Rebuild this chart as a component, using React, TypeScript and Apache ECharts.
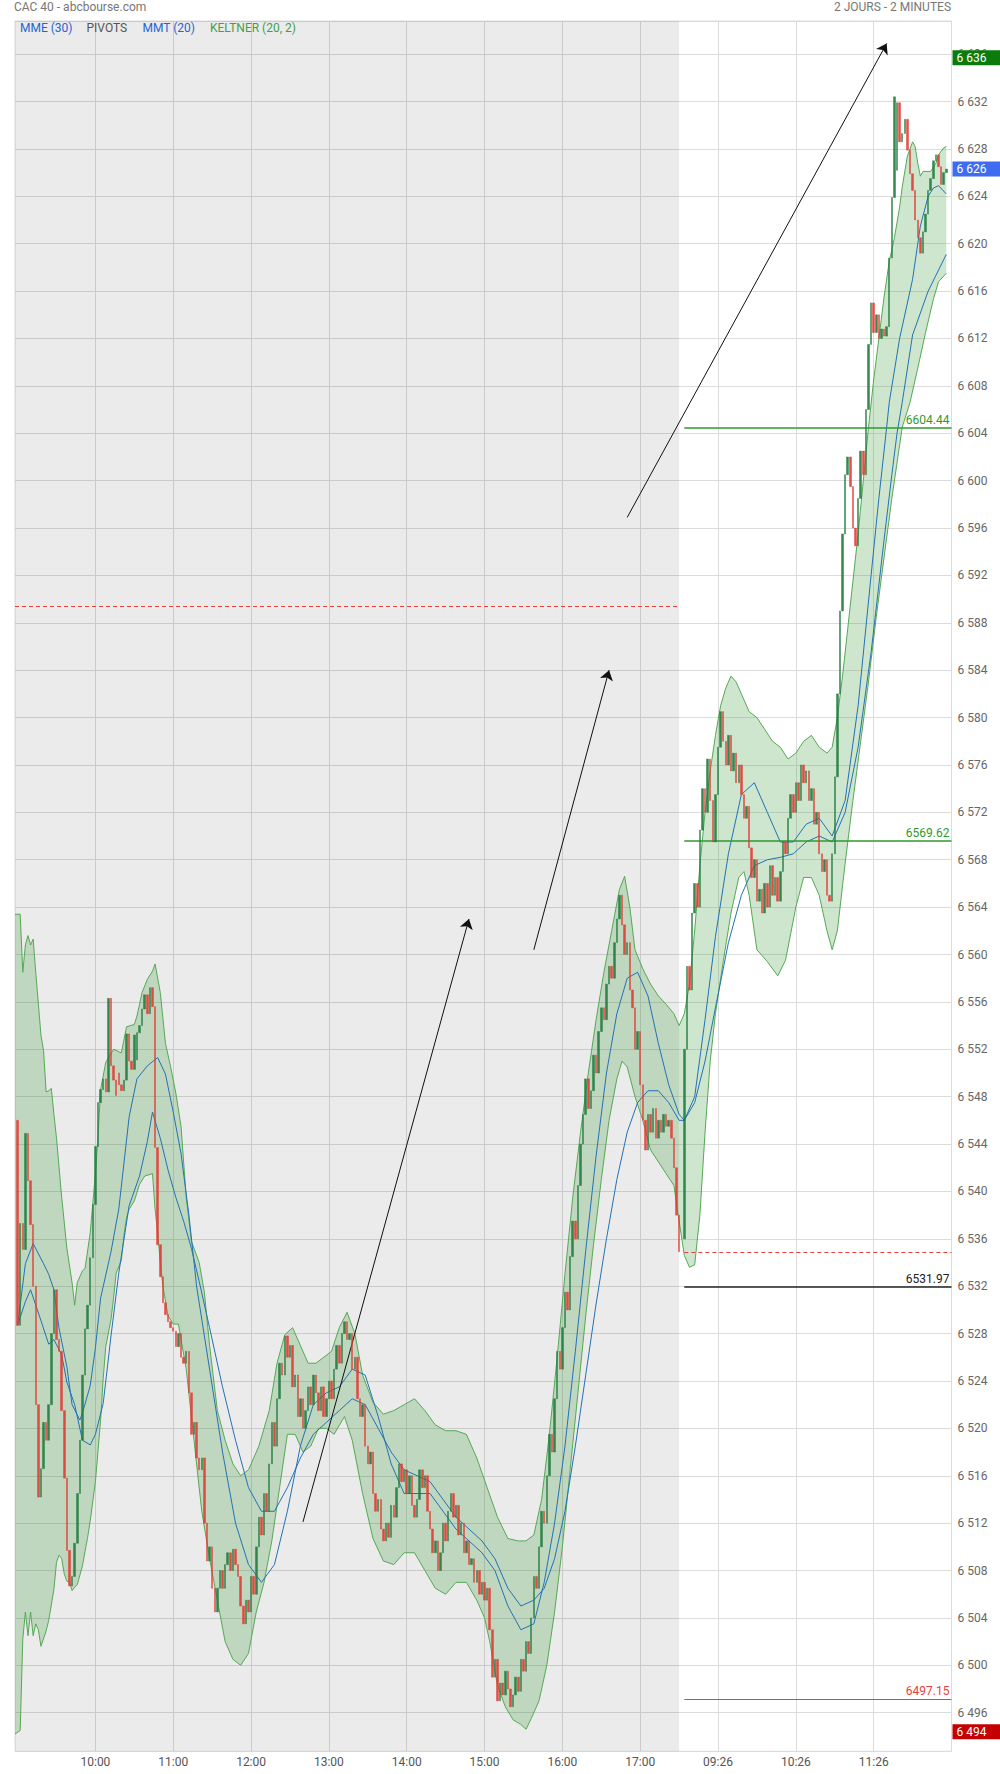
import React, { useEffect, useRef } from 'react';
import * as echarts from 'echarts';

// ---------- DATA ----------
// candles: [open, close, low, high]
// day 1 : category index 1 .. 256  (09:00 - 17:30)
const day1Candles: number[][] = [
  [6546.0, 6528.7, 6527.8, 6548.0], [6528.7, 6537.3, 6528.2, 6539.0], [6537.3, 6535.1, 6533.5, 6538.5], [6535.1, 6544.9, 6534.8, 6551.0], [6544.9, 6540.9, 6539.5, 6549.0],
  [6540.9, 6537.2, 6536.0, 6542.0], [6537.2, 6532.0, 6525.5, 6538.0], [6532.0, 6522.0, 6520.0, 6533.0], [6522.0, 6514.2, 6510.6, 6523.0], [6514.2, 6516.6, 6512.0, 6519.0],
  // 11
  [6516.6, 6520.5, 6515.5, 6522.0], [6520.5, 6519.0, 6517.0, 6523.5], [6519.0, 6522.0, 6518.0, 6524.0], [6522.0, 6528.0, 6521.0, 6529.5], [6528.0, 6531.7, 6526.5, 6534.3],
  [6531.7, 6527.5, 6526.0, 6532.0], [6527.5, 6526.5, 6524.5, 6529.5], [6526.5, 6521.5, 6520.0, 6527.5], [6521.5, 6515.8, 6514.5, 6522.0], [6515.8, 6509.7, 6507.5, 6516.5],
  // 21
  [6509.7, 6506.7, 6503.5, 6514.8], [6506.7, 6507.5, 6505.0, 6511.0], [6507.5, 6510.3, 6506.5, 6511.5], [6510.3, 6514.5, 6509.0, 6515.5], [6514.5, 6519.0, 6513.5, 6520.0],
  [6519.0, 6524.5, 6518.0, 6525.5], [6524.5, 6528.4, 6523.5, 6530.0], [6528.4, 6530.4, 6527.0, 6532.0], [6530.4, 6534.4, 6529.5, 6536.0], [6534.4, 6538.9, 6533.5, 6541.0],
  // 31
  [6538.9, 6543.8, 6537.5, 6551.2], [6543.8, 6547.5, 6542.5, 6549.5], [6547.5, 6548.6, 6543.3, 6551.5], [6548.6, 6549.5, 6546.5, 6552.0], [6549.5, 6548.4, 6547.0, 6551.5],
  [6548.4, 6556.3, 6548.0, 6559.1], [6556.3, 6550.6, 6549.5, 6556.8], [6550.6, 6549.4, 6548.0, 6551.8], [6549.4, 6548.1, 6544.7, 6550.2], [6550.0, 6549.0, 6546.0, 6551.0],
  // 41
  [6549.0, 6548.5, 6547.0, 6550.5], [6548.5, 6549.4, 6546.5, 6551.5], [6549.4, 6553.3, 6548.5, 6557.1], [6553.3, 6551.0, 6549.5, 6554.5], [6551.0, 6550.3, 6548.0, 6553.5],
  [6550.3, 6553.2, 6549.8, 6554.0], [6551.1, 6553.4, 6550.5, 6554.5], [6553.4, 6554.0, 6552.5, 6555.5], [6554.0, 6555.4, 6553.5, 6556.0], [6555.4, 6556.6, 6553.9, 6557.8],
  // 51
  [6556.6, 6555.0, 6554.0, 6557.0], [6555.0, 6557.2, 6554.5, 6559.3], [6557.2, 6555.6, 6549.9, 6558.0], [6555.6, 6543.7, 6543.0, 6556.0], [6543.7, 6535.5, 6534.5, 6545.0],
  [6535.5, 6532.8, 6530.5, 6537.4], [6532.8, 6530.6, 6528.9, 6534.5], [6530.6, 6529.6, 6527.5, 6532.0], [6529.6, 6529.0, 6527.8, 6531.0], [6529.0, 6528.5, 6527.0, 6530.0],
  // 61
  [6528.5, 6528.2, 6527.0, 6529.5], [6528.2, 6526.9, 6524.2, 6528.8], [6526.9, 6528.0, 6525.5, 6529.0], [6528.0, 6526.0, 6525.0, 6528.8], [6526.0, 6525.5, 6523.5, 6527.5],
  [6525.5, 6526.5, 6524.0, 6527.5], [6526.5, 6523.0, 6522.0, 6527.0], [6523.0, 6519.5, 6518.0, 6524.5], [6519.5, 6520.5, 6518.5, 6522.5], [6520.5, 6517.5, 6516.0, 6521.5],
  // 71
  [6517.5, 6516.5, 6514.5, 6519.5], [6516.5, 6517.5, 6515.5, 6519.0], [6517.5, 6512.0, 6511.0, 6518.0], [6512.0, 6508.8, 6507.0, 6513.0], [6508.8, 6510.0, 6507.5, 6511.5],
  [6510.0, 6506.5, 6505.5, 6511.0], [6506.5, 6504.5, 6500.2, 6507.5], [6504.5, 6506.5, 6503.5, 6507.5], [6506.5, 6508.0, 6505.5, 6509.5], [6508.0, 6506.5, 6505.0, 6509.0],
  // 81
  [6506.5, 6508.5, 6505.5, 6510.0], [6508.5, 6509.5, 6507.0, 6511.0], [6509.5, 6508.0, 6507.0, 6510.5], [6508.0, 6509.8, 6507.5, 6511.0], [6509.8, 6508.5, 6507.0, 6510.5],
  [6508.5, 6507.5, 6505.5, 6509.5], [6507.5, 6505.0, 6504.0, 6508.5], [6505.0, 6503.5, 6499.7, 6506.0], [6503.5, 6505.5, 6502.5, 6506.5], [6505.5, 6504.5, 6502.0, 6507.0],
  // 91
  [6504.5, 6507.5, 6503.5, 6508.5], [6507.5, 6506.0, 6505.0, 6509.0], [6506.0, 6510.0, 6505.5, 6511.0], [6510.0, 6512.5, 6509.0, 6514.0], [6512.5, 6511.0, 6509.5, 6513.5],
  [6511.0, 6514.5, 6510.0, 6515.5], [6514.5, 6513.0, 6511.5, 6516.0], [6513.0, 6517.0, 6512.5, 6518.0], [6517.0, 6520.5, 6516.0, 6521.5], [6520.5, 6518.5, 6517.0, 6522.0],
  // 101
  [6518.5, 6522.5, 6518.0, 6524.0], [6522.5, 6525.5, 6521.5, 6526.5], [6525.5, 6524.5, 6523.0, 6527.0], [6524.5, 6527.8, 6524.0, 6528.6], [6527.8, 6526.0, 6524.5, 6528.5],
  [6526.0, 6527.0, 6525.0, 6528.0], [6527.0, 6523.5, 6522.5, 6527.5], [6523.5, 6524.5, 6521.5, 6525.5], [6524.5, 6521.0, 6520.0, 6525.0], [6521.0, 6522.5, 6519.5, 6523.5],
  // 111
  [6522.5, 6520.0, 6518.5, 6523.0], [6520.0, 6521.5, 6519.0, 6522.5], [6521.5, 6523.5, 6520.5, 6524.5], [6523.5, 6522.0, 6521.0, 6525.0], [6522.0, 6524.5, 6521.5, 6525.5],
  [6524.5, 6523.0, 6522.0, 6525.5], [6523.0, 6521.5, 6520.0, 6524.0], [6521.5, 6523.5, 6520.5, 6524.5], [6523.5, 6521.0, 6520.0, 6524.0], [6521.0, 6522.5, 6519.5, 6523.5],
  // 121
  [6522.5, 6524.0, 6521.5, 6525.0], [6524.0, 6522.5, 6521.0, 6525.0], [6522.5, 6525.0, 6522.0, 6526.0], [6525.0, 6527.0, 6524.0, 6528.0], [6527.0, 6525.5, 6524.5, 6527.5],
  [6525.5, 6528.0, 6525.0, 6529.0], [6528.0, 6529.0, 6527.0, 6529.8], [6529.0, 6527.5, 6526.5, 6529.5], [6527.5, 6528.0, 6526.0, 6529.0], [6528.0, 6525.0, 6524.0, 6528.5],
  // 131
  [6525.0, 6526.0, 6524.0, 6527.0], [6526.0, 6522.5, 6521.5, 6526.5], [6522.5, 6521.0, 6519.5, 6523.5], [6521.0, 6522.0, 6520.0, 6523.0], [6522.0, 6518.5, 6517.5, 6522.5],
  [6518.5, 6517.0, 6515.5, 6519.5], [6517.0, 6518.0, 6516.0, 6519.0], [6518.0, 6514.5, 6513.5, 6518.5], [6514.5, 6513.0, 6511.5, 6515.5], [6513.0, 6514.0, 6512.0, 6515.0],
  // 141
  [6514.0, 6511.5, 6510.0, 6514.5], [6511.5, 6510.5, 6509.0, 6512.5], [6510.5, 6512.0, 6509.5, 6513.0], [6512.0, 6510.8, 6509.0, 6513.0], [6510.8, 6513.5, 6510.0, 6514.5],
  [6513.5, 6512.5, 6511.0, 6514.5], [6512.5, 6515.0, 6512.0, 6516.0], [6515.0, 6517.0, 6514.0, 6518.0], [6517.0, 6515.5, 6514.5, 6518.0], [6515.5, 6516.5, 6514.0, 6517.5],
  // 151
  [6516.5, 6514.5, 6513.5, 6517.5], [6514.5, 6516.0, 6513.0, 6517.0], [6516.0, 6513.5, 6512.5, 6516.5], [6513.5, 6512.5, 6511.0, 6514.5], [6512.5, 6514.0, 6511.5, 6515.0],
  [6514.0, 6516.5, 6513.0, 6517.5], [6516.5, 6515.0, 6514.0, 6518.0], [6515.0, 6516.0, 6514.0, 6517.0], [6516.0, 6513.0, 6512.0, 6516.5], [6513.0, 6511.5, 6510.5, 6514.0],
  // 161
  [6511.5, 6509.5, 6508.5, 6512.5], [6509.5, 6510.5, 6508.0, 6511.5], [6510.5, 6508.0, 6506.5, 6511.0], [6508.0, 6509.5, 6507.5, 6510.5], [6509.5, 6512.0, 6509.0, 6513.0],
  [6512.0, 6510.5, 6509.5, 6513.0], [6510.5, 6513.0, 6510.0, 6514.0], [6513.0, 6514.5, 6512.0, 6515.5], [6514.5, 6512.5, 6511.5, 6515.0], [6512.5, 6513.5, 6511.0, 6514.5],
  // 171
  [6513.5, 6511.0, 6510.0, 6514.0], [6511.0, 6512.0, 6509.5, 6513.0], [6512.0, 6509.5, 6508.5, 6512.5], [6509.5, 6510.5, 6508.0, 6511.5], [6510.5, 6508.5, 6507.0, 6511.0],
  [6508.5, 6509.0, 6507.0, 6510.5], [6509.0, 6507.0, 6505.5, 6509.5], [6507.0, 6508.0, 6506.0, 6509.0], [6508.0, 6506.0, 6505.0, 6508.5], [6506.0, 6507.0, 6505.0, 6508.0],
  // 181
  [6507.0, 6505.5, 6504.0, 6508.5], [6505.5, 6506.5, 6504.5, 6507.5], [6506.5, 6503.0, 6502.0, 6507.0], [6503.0, 6499.0, 6497.5, 6503.5], [6499.0, 6500.5, 6497.5, 6501.5],
  [6500.5, 6497.0, 6495.5, 6501.0], [6497.0, 6498.5, 6496.0, 6500.0], [6498.5, 6497.5, 6496.0, 6499.5], [6497.5, 6499.5, 6496.5, 6500.5], [6499.5, 6498.0, 6496.5, 6500.5],
  // 191
  [6498.0, 6496.5, 6495.0, 6499.0], [6496.5, 6497.5, 6494.4, 6498.5], [6497.5, 6499.0, 6496.5, 6500.0], [6499.0, 6497.8, 6496.5, 6500.0], [6497.8, 6500.5, 6497.0, 6501.5],
  [6500.5, 6499.5, 6498.0, 6501.5], [6499.5, 6502.0, 6499.0, 6503.0], [6502.0, 6501.0, 6499.5, 6503.0], [6501.0, 6504.0, 6500.5, 6505.0], [6504.0, 6507.5, 6503.5, 6508.5],
  // 201
  [6507.5, 6506.5, 6505.0, 6509.0], [6506.5, 6510.0, 6506.0, 6511.0], [6510.0, 6513.0, 6509.0, 6514.0], [6513.0, 6512.0, 6510.5, 6514.5], [6512.0, 6516.0, 6511.5, 6517.0],
  [6516.0, 6519.5, 6515.0, 6520.5], [6519.5, 6518.0, 6516.5, 6521.0], [6518.0, 6522.5, 6517.5, 6523.5], [6522.5, 6526.5, 6521.5, 6527.5], [6526.5, 6525.0, 6523.5, 6528.0],
  // 211
  [6525.0, 6528.5, 6524.5, 6529.5], [6528.5, 6531.5, 6527.5, 6532.5], [6531.5, 6530.0, 6528.5, 6533.0], [6530.0, 6534.5, 6529.5, 6535.5], [6534.5, 6537.5, 6533.5, 6538.5],
  [6537.5, 6536.0, 6534.5, 6539.0], [6536.0, 6540.5, 6535.5, 6541.5], [6540.5, 6544.0, 6539.5, 6545.0], [6544.0, 6546.5, 6543.0, 6548.0], [6546.5, 6549.5, 6545.5, 6551.0],
  // 221
  [6549.5, 6547.0, 6545.5, 6550.5], [6547.0, 6548.5, 6546.0, 6549.5], [6548.5, 6551.5, 6547.5, 6552.5], [6551.5, 6550.0, 6548.5, 6552.5], [6550.0, 6553.5, 6549.5, 6554.5],
  [6553.5, 6555.5, 6552.5, 6556.5], [6555.5, 6554.5, 6553.0, 6557.0], [6554.5, 6557.5, 6554.0, 6558.5], [6557.5, 6559.0, 6556.5, 6560.0], [6559.0, 6558.0, 6556.5, 6560.0],
  // 231
  [6558.0, 6561.0, 6557.5, 6562.0], [6561.0, 6563.0, 6560.0, 6564.0], [6563.0, 6565.0, 6561.5, 6566.6], [6565.0, 6562.5, 6561.0, 6565.5], [6562.5, 6560.0, 6558.5, 6563.0],
  [6560.0, 6561.0, 6558.0, 6562.0], [6561.0, 6557.0, 6556.0, 6561.5], [6557.0, 6555.5, 6553.5, 6558.5], [6555.5, 6552.0, 6550.5, 6556.0], [6552.0, 6553.5, 6550.0, 6555.0],
  // 241
  [6553.5, 6549.0, 6548.0, 6554.0], [6549.0, 6546.0, 6544.5, 6549.5], [6546.0, 6543.5, 6541.5, 6547.0], [6543.5, 6546.5, 6542.5, 6547.5], [6546.5, 6545.0, 6543.5, 6548.0],
  [6545.0, 6547.0, 6544.0, 6548.0], [6547.0, 6544.5, 6543.0, 6547.5], [6544.5, 6546.0, 6543.5, 6547.0], [6546.0, 6545.0, 6543.5, 6547.0], [6545.0, 6546.5, 6544.0, 6547.5],
  // 251
  [6546.5, 6545.5, 6544.5, 6547.5], [6545.5, 6546.0, 6544.0, 6547.0], [6546.0, 6544.5, 6543.0, 6546.5], [6544.5, 6542.0, 6541.0, 6545.0], [6542.0, 6538.0, 6537.0, 6542.5],
  [6538.0, 6534.9, 6534.5, 6539.0],
];

// day 2 : category index 258 .. 359  (09:00 - 12:22)
const day2Candles: number[][] = [
  // 258
  [6536.0, 6552.0, 6535.5, 6553.0], [6552.0, 6559.0, 6550.5, 6560.5], [6559.0, 6557.0, 6555.0, 6561.0],
  [6557.0, 6563.5, 6556.0, 6565.0], [6563.5, 6566.0, 6561.5, 6567.5], [6566.0, 6564.0, 6562.5, 6567.5], [6564.0, 6570.5, 6563.5, 6572.0], [6570.5, 6574.0, 6569.0, 6577.0],
  [6574.0, 6572.0, 6570.0, 6577.5], [6572.0, 6576.5, 6571.0, 6577.5], [6576.5, 6573.0, 6571.5, 6577.0], [6573.0, 6569.5, 6568.0, 6574.0], [6569.5, 6573.5, 6568.5, 6574.5],
  // 271
  [6573.5, 6577.5, 6572.5, 6578.5], [6577.5, 6580.5, 6576.0, 6582.0], [6580.5, 6578.0, 6576.5, 6584.7], [6578.0, 6576.0, 6574.5, 6579.0], [6576.0, 6578.5, 6575.0, 6579.5],
  [6578.5, 6575.5, 6574.0, 6579.0], [6575.5, 6577.0, 6574.5, 6578.0], [6577.0, 6574.5, 6573.0, 6578.0], [6574.5, 6576.0, 6573.5, 6577.5], [6576.0, 6573.5, 6572.0, 6576.5],
  // 281
  [6573.5, 6571.5, 6570.5, 6574.5], [6571.5, 6572.5, 6570.0, 6573.5], [6572.5, 6569.0, 6568.0, 6573.0], [6569.0, 6566.5, 6565.0, 6570.0], [6566.5, 6568.0, 6564.5, 6569.0],
  [6568.0, 6564.5, 6563.0, 6568.5], [6564.5, 6565.5, 6561.3, 6566.5], [6565.5, 6563.5, 6562.0, 6566.5], [6563.5, 6566.0, 6562.5, 6567.0], [6566.0, 6564.0, 6562.5, 6567.0],
  // 291
  [6564.0, 6567.5, 6563.0, 6568.5], [6567.5, 6565.0, 6564.0, 6568.0], [6565.0, 6566.5, 6563.5, 6567.5], [6566.5, 6564.5, 6563.5, 6567.0], [6564.5, 6567.0, 6564.0, 6568.0],
  [6567.0, 6569.5, 6566.0, 6570.5], [6569.5, 6568.5, 6567.0, 6570.5], [6568.5, 6571.5, 6568.0, 6572.5], [6571.5, 6573.5, 6570.5, 6574.5], [6573.5, 6572.0, 6570.5, 6574.5],
  // 301
  [6572.0, 6574.5, 6571.0, 6575.5], [6574.5, 6573.0, 6572.0, 6575.5], [6573.0, 6576.0, 6572.5, 6578.5], [6576.0, 6574.5, 6573.0, 6577.0], [6574.5, 6575.5, 6573.5, 6576.5],
  [6575.5, 6573.0, 6572.0, 6576.0], [6573.0, 6574.0, 6572.0, 6575.0], [6574.0, 6571.0, 6570.0, 6574.5], [6571.0, 6572.0, 6570.0, 6573.0], [6572.0, 6568.5, 6567.5, 6572.5],
  // 311
  [6568.5, 6567.0, 6565.5, 6569.5], [6567.0, 6568.0, 6566.0, 6569.0], [6568.0, 6565.0, 6563.5, 6568.5], [6565.0, 6564.5, 6563.2, 6566.5], [6564.5, 6568.5, 6564.0, 6569.5],
  [6568.5, 6575.0, 6568.0, 6576.0], [6575.0, 6582.0, 6574.0, 6583.0], [6582.0, 6589.0, 6581.0, 6590.0], [6589.0, 6595.5, 6588.0, 6597.0], [6595.5, 6600.5, 6594.5, 6605.0],
  // 321
  [6600.5, 6602.0, 6599.0, 6605.0], [6602.0, 6599.5, 6598.0, 6603.0], [6599.5, 6596.0, 6594.5, 6600.5], [6596.0, 6594.5, 6592.8, 6597.0], [6594.5, 6598.5, 6594.0, 6599.5],
  [6598.5, 6602.5, 6597.5, 6603.5], [6602.5, 6600.5, 6599.0, 6603.5], [6600.5, 6606.0, 6600.0, 6607.0], [6606.0, 6611.5, 6605.5, 6619.0], [6611.5, 6615.0, 6610.5, 6616.5],
  // 331
  [6615.0, 6612.5, 6611.0, 6616.0], [6612.5, 6614.0, 6611.0, 6615.5], [6614.0, 6612.0, 6610.5, 6617.0], [6612.0, 6612.8, 6610.0, 6614.0], [6612.8, 6612.2, 6610.5, 6614.5],
  [6612.2, 6613.0, 6611.0, 6614.0], [6613.0, 6618.8, 6612.5, 6620.0], [6618.8, 6623.9, 6615.1, 6624.5], [6623.9, 6632.4, 6623.0, 6635.7], [6626.2, 6631.9, 6625.5, 6633.2],
  // 341
  [6631.9, 6628.6, 6627.5, 6632.5], [6628.6, 6629.3, 6627.5, 6630.5], [6629.3, 6630.5, 6627.5, 6632.6], [6630.5, 6627.9, 6627.0, 6631.0], [6627.9, 6625.9, 6624.5, 6628.5],
  [6625.9, 6624.5, 6622.5, 6627.0], [6624.5, 6622.0, 6620.5, 6625.0], [6622.0, 6620.5, 6619.5, 6623.0], [6620.5, 6619.2, 6618.0, 6622.0], [6619.2, 6621.0, 6618.5, 6622.0],
  // 351
  [6621.0, 6622.5, 6620.0, 6623.5], [6622.5, 6624.5, 6621.5, 6625.0], [6624.5, 6625.5, 6623.5, 6626.5], [6625.5, 6627.0, 6624.5, 6628.5], [6627.0, 6627.5, 6625.5, 6629.2],
  [6627.5, 6626.5, 6625.5, 6628.0], [6626.5, 6625.0, 6623.5, 6627.0], [6625.0, 6626.0, 6624.5, 6627.5], [6626.0, 6626.3, 6625.0, 6627.5],
];

// Keltner (20, 2) band edges, read as [category index, value]
const upperBand: number[][] = [
  [0, 6563.4], [2, 6563.4], [3, 6558.5], [4, 6560.8], [5, 6561.6], [6, 6560.8], [7, 6561.3], [8, 6558.5], [10, 6553.2], [11, 6551.9], [12, 6548.4], [13, 6548.5], [14, 6548.7],
  [15, 6546.5], [16, 6544.5], [18, 6539.5], [20, 6535.2], [22, 6532.3], [23, 6530.4], [24, 6532.3], [26, 6533.3], [27, 6533.5], [29, 6536.5], [31, 6541.5], [32, 6544.6],
  [33, 6548.6], [35, 6550.9], [38, 6552], [40, 6551.8], [41, 6551.7], [43, 6553.9], [46, 6554.1], [47, 6554.8], [49, 6556.8], [51, 6557.9], [53, 6558.6], [54, 6559.2],
  [56, 6556.8], [58, 6552.5], [60, 6550.5], [62, 6548.3], [64, 6545.5], [66, 6539.5], [68, 6535.8], [71, 6534], [73, 6531.5], [75, 6527], [78, 6521.5], [81, 6519],
  [84, 6517], [87, 6516], [90, 6516.5], [94, 6518.5], [98, 6521.5], [101, 6525.5], [104, 6527.9], [107, 6528.5], [110, 6527], [113, 6525.5], [116, 6525.5], [119, 6526],
  [122, 6526.5], [125, 6528.5], [128, 6529.8], [131, 6528], [134, 6524.5], [138, 6522.2], [142, 6521.2], [146, 6521.5], [150, 6522], [154, 6522.5], [158, 6521.5],
  [162, 6520.3], [166, 6519.8], [170, 6519.8], [174, 6519.5], [178, 6517.5], [182, 6515], [186, 6512.5], [190, 6510.7], [194, 6510.5], [197, 6510.5], [200, 6511],
  [203, 6514], [206, 6519.5], [209, 6526], [212, 6533], [215, 6539.5], [218, 6545], [221, 6550], [224, 6554.5], [227, 6558.5], [230, 6562], [233, 6565.5], [235, 6566.6],
  [237, 6564], [239, 6560.4], [242, 6558.8], [245, 6557.5], [248, 6556.5], [251, 6555.8], [254, 6555], [256, 6554], [258, 6555], [260, 6557.5], [262, 6562], [264, 6567.5],
  [266, 6572], [268, 6575.5], [270, 6578.5], [272, 6581], [274, 6582.5], [276, 6583.5], [278, 6583], [280, 6582], [283, 6580.5], [286, 6580], [289, 6579], [292, 6578],
  [295, 6577.5], [298, 6576.5], [301, 6577], [304, 6578], [307, 6578.5], [310, 6577.5], [313, 6577], [315, 6577.5], [317, 6580], [319, 6583.5], [321, 6587.5],
  [323, 6591.5], [325, 6595.5], [327, 6600], [329, 6604.5], [331, 6608.5], [333, 6612], [335, 6615.5], [337, 6618.5], [339, 6620.5], [341, 6623.1], [342, 6624.8],
  [344, 6627.4], [346, 6628.6], [347, 6628.2], [348, 6626.8], [349, 6625.7], [350, 6626.1], [353, 6626.1], [355, 6626.8], [356, 6627.5], [358, 6628.1], [359, 6628.2],
];

const lowerBand: number[][] = [
  [0, 6494.2], [2, 6494.5], [3, 6502.2], [4, 6504.5], [5, 6502.5], [6, 6504.5], [7, 6502.5], [8, 6503.5], [9, 6503], [10, 6501.6], [12, 6502.9], [13, 6503.8], [15, 6506.4],
  [16, 6508.7], [17, 6509.3], [18, 6509], [19, 6507.7], [20, 6507.1], [21, 6507], [22, 6506.3], [23, 6506.6], [24, 6506.8], [26, 6508.4], [27, 6509.6], [28, 6510.8],
  [29, 6512.2], [31, 6515.5], [33, 6520.7], [34, 6524.2], [35, 6526.9], [37, 6529.2], [38, 6531], [39, 6533.1], [41, 6534.2], [42, 6536.3], [43, 6537.8], [44, 6538.5],
  [46, 6539.2], [47, 6539.9], [48, 6540.6], [50, 6541.3], [53, 6541.5], [54, 6538.5], [55, 6536.5], [56, 6534], [57, 6532], [59, 6529.5], [61, 6528.8], [63, 6528.8],
  [66, 6525], [69, 6519], [72, 6513], [75, 6509], [78, 6505.5], [81, 6502], [84, 6500.5], [87, 6500], [90, 6501], [93, 6504.5], [96, 6507], [99, 6510.5], [102, 6515],
  [105, 6519.5], [108, 6519.5], [111, 6518], [114, 6518.5], [117, 6520], [120, 6520], [123, 6519.5], [127, 6521], [130, 6519], [134, 6514.5], [138, 6510.7],
  [142, 6508.8], [146, 6508.5], [150, 6509.5], [154, 6509.5], [158, 6508], [162, 6506.5], [166, 6506], [170, 6507], [174, 6507], [178, 6505.5], [181, 6504], [183, 6502],
  [186, 6498.3], [189, 6496.5], [192, 6495.4], [195, 6495], [197, 6494.6], [199, 6495.5], [202, 6497], [205, 6500], [208, 6504.5], [211, 6510], [214, 6516.5],
  [217, 6523], [220, 6529.5], [223, 6535.5], [226, 6541], [229, 6546], [232, 6549.5], [234, 6551], [236, 6550.5], [239, 6548], [242, 6546], [245, 6543.5], [248, 6542.5],
  [251, 6541.5], [254, 6540.5], [256, 6537.5], [258, 6534.6], [260, 6533.6], [262, 6533.8], [264, 6538], [266, 6545], [268, 6551], [270, 6555], [273, 6559.4],
  [276, 6563.5], [279, 6566.5], [281, 6567], [283, 6565], [286, 6560.4], [290, 6559.4], [294, 6558.2], [297, 6559.5], [301, 6564], [304, 6566.5], [307, 6566.5],
  [310, 6565], [313, 6562], [315, 6560.4], [317, 6562], [320, 6567.7], [323, 6573], [326, 6578], [329, 6583], [332, 6588.5], [335, 6593.5], [338, 6598.5], [340, 6601.5],
  [342, 6604.5], [345, 6606.6], [348, 6609.5], [351, 6612.5], [354, 6615.3], [356, 6616.8], [359, 6617.5],
];

// MMT (20) and MME (30), read as [category index, value]
const mmt: number[][] = [
  [1, 6528.7], [4, 6533.9], [7, 6535.6], [11, 6533.9], [13, 6533], [15, 6531.7], [17, 6528.4], [20, 6525.2], [22, 6522], [25, 6520.7], [26, 6521.3], [29, 6523.6],
  [31, 6526.8], [33, 6531], [37, 6534.9], [40, 6538.5], [44, 6546.3], [47, 6549.5], [51, 6550.6], [55, 6551.3], [58, 6549.9], [61, 6546.7], [64, 6543.2], [67, 6538.1],
  [70, 6532], [75, 6525], [80, 6518], [85, 6512], [90, 6508.5], [95, 6507], [100, 6508.5], [105, 6513], [110, 6518.5], [115, 6522], [120, 6523], [125, 6523.5],
  [130, 6525], [135, 6524.5], [140, 6521], [145, 6517], [150, 6514.5], [155, 6514.5], [160, 6514.5], [165, 6513], [170, 6511.5], [175, 6510.5], [180, 6509.5],
  [185, 6508], [190, 6505], [195, 6503], [200, 6503.5], [204, 6507], [208, 6512], [212, 6518.5], [216, 6526.5], [220, 6535], [224, 6543], [228, 6550], [232, 6555],
  [236, 6558], [240, 6558.5], [244, 6556.5], [248, 6552.5], [252, 6549], [256, 6546.5], [258, 6546], [262, 6548], [266, 6554.5], [270, 6561.5], [275, 6568.5],
  [280, 6573.5], [285, 6574.5], [290, 6572], [295, 6569.5], [300, 6569.5], [305, 6571], [310, 6571.5], [315, 6570], [320, 6573], [325, 6581], [330, 6592],
  [333, 6598.5], [336, 6604.5], [337, 6606.6], [341, 6612], [346, 6617], [349, 6621.5], [352, 6624], [354, 6624.7], [356, 6624.9], [359, 6624.2],
];

const mme: number[][] = [
  [1, 6528.7], [4, 6530.7], [6, 6531.7], [10, 6529.1], [13, 6527.1], [15, 6527.5], [18, 6526.2], [20, 6523.9], [23, 6522], [26, 6519], [29, 6518.6], [31, 6519.5],
  [34, 6522.1], [37, 6527.8], [40, 6533.1], [44, 6538.8], [48, 6541.3], [51, 6544.2], [53, 6546.7], [56, 6544.5], [59, 6541.8], [62, 6539.5], [65, 6537.5],
  [68, 6535.2], [71, 6532.4], [75, 6528.5], [80, 6523.5], [85, 6519], [90, 6515], [95, 6513], [100, 6513], [105, 6515], [110, 6517.5], [115, 6519.5], [120, 6520.5],
  [125, 6521.5], [130, 6522.5], [135, 6522], [140, 6520], [145, 6518], [150, 6516.5], [155, 6516], [160, 6515.5], [165, 6514], [170, 6512.5], [175, 6511.5],
  [180, 6510.5], [185, 6509], [190, 6506.5], [195, 6505], [200, 6505.5], [204, 6506.5], [208, 6509], [212, 6513], [216, 6518.5], [220, 6524.5], [224, 6530.5],
  [228, 6536], [232, 6541], [236, 6545], [240, 6547.5], [244, 6548.5], [248, 6548.5], [252, 6547.5], [256, 6546], [258, 6546], [262, 6547.5], [266, 6551],
  [270, 6555.5], [275, 6561], [280, 6565], [285, 6567.5], [290, 6568], [295, 6568.2], [300, 6568.5], [305, 6569.5], [310, 6570], [315, 6569.5], [320, 6572],
  [325, 6577.5], [330, 6585.5], [335, 6595], [338, 6600.5], [340, 6604], [342, 6606.6], [346, 6612.3], [352, 6616], [359, 6619.1],
];

// pivot levels (day 2) and previous-close references
const pivots = [
  { value: 6604.44, color: '#2f9a2f', width: 1.5 },
  { value: 6569.62, color: '#2f9a2f', width: 1.5 },
  { value: 6531.97, color: '#222222', width: 1.5 },
  { value: 6497.15, color: '#e8413c', width: 1 },
];
const prevCloseDay1 = 6589.4;
const prevCloseDay2 = 6534.9;

// hand-drawn arrows: [fromIndex, fromValue, toIndex, toValue]
const arrows: number[][] = [
  [111, 6512.1, 175, 6563.0],
  [200, 6560.4, 229, 6584.0],
  [236, 6596.9, 336, 6636.9],
];

// axes
const categoryCount = 362;
const day1First = 1;
const day1Last = 256;
const day2First = 258;
const timeLabelIdx = [31, 61, 91, 121, 151, 181, 211, 241, 271, 301, 331];
const yMin = 6492.74;
const yMax = 6638.8;
const yStep = 4;

// ---------- HELPERS ----------
function times(h: number, m: number, n: number): string[] {
  const out: string[] = [];
  for (let i = 0; i < n; i++) {
    const t = h * 60 + m + 2 * i;
    out.push(String(Math.floor(t / 60)).padStart(2, '0') + ':' + String(t % 60).padStart(2, '0'));
  }
  return out;
}
const categories = [...times(8, 58, day2First), ...times(9, 0, categoryCount - day2First)];

function fmtPrice(v: number): string {
  const n = Math.round(v);
  return Math.floor(n / 1000) + ' ' + String(n % 1000).padStart(3, '0');
}

const FONT = 'Roboto, "Noto Sans", sans-serif';

export default function App() {
  const ref = useRef<HTMLDivElement>(null);
  useEffect(() => {
    document.body.style.margin = '0';
    const chart = echarts.init(ref.current!, null, { renderer: 'svg' });

    const ohlc: any[] = new Array(categoryCount).fill(null);
    day1Candles.forEach((c, i) => (ohlc[day1First + i] = c));
    day2Candles.forEach((c, i) => (ohlc[day2First + i] = c));
    const bodyData = ohlc.map((c) => (c ? [c[0], c[1], Math.min(c[0], c[1]), Math.max(c[0], c[1])] : '-'));
    const wickData = ohlc.map((c) => (c ? [c[2], c[3], c[2], c[3]] : '-'));
    const all = ohlc.filter((c) => c);
    const maxHigh = Math.max(...all.map((c) => c[3]));
    const minLow = Math.min(...all.map((c) => c[2]));
    const lastClose = all[all.length - 1][1];
    const lastIdx = categoryCount - 1;

    const pivotLines = pivots.map((p) => [
      {
        coord: [day2First, p.value],
        lineStyle: { color: p.color, width: p.width, type: 'solid' },
        label: {
          show: true, position: 'insideEndTop', formatter: p.value.toFixed(2), color: p.color,
          fontSize: 12, fontFamily: FONT, distance: [2, 2],
        },
      },
      { coord: [lastIdx, p.value] },
    ]);
    const dashed = [
      [{ coord: [0, prevCloseDay1], lineStyle: { color: '#e8413c', width: 1, type: [4, 3] }, label: { show: false } }, { coord: [day1Last, prevCloseDay1] }],
      [{ coord: [day2First, prevCloseDay2], lineStyle: { color: '#e8413c', width: 1, type: [4, 3] }, label: { show: false } }, { coord: [lastIdx, prevCloseDay2] }],
    ];
    const arrowLines = arrows.map((a) => [
      { coord: [a[0], a[1]], symbol: 'none', lineStyle: { color: '#111', width: 1, type: 'solid' }, label: { show: false } },
      { coord: [a[2], a[3]], symbol: 'arrow', symbolSize: 10 },
    ]);
    const badge = (v: number, bg: string) => ({
      yAxis: v,
      lineStyle: { color: 'rgba(0,0,0,0)', width: 0 },
      label: {
        show: true, position: 'end', distance: 1, formatter: fmtPrice(v), color: '#fff', backgroundColor: bg,
        padding: [2, 14, 1, 4], fontSize: 12, fontFamily: FONT,
      },
    });

    const option: any = {
      animation: false,
      backgroundColor: '#ffffff',
      textStyle: { fontFamily: FONT },
      grid: { left: 15, right: 48.5, top: 21, bottom: 22.7, show: true, borderColor: '#dcdcdc', borderWidth: 1 },
      xAxis: {
        type: 'category', data: categories, boundaryGap: false,
        axisLine: { show: false }, axisTick: { show: false },
        axisLabel: { interval: (i: number) => timeLabelIdx.includes(i), color: '#555', fontSize: 12, margin: 5, fontFamily: FONT },
        splitLine: { show: true, interval: (i: number) => timeLabelIdx.includes(i), lineStyle: { color: '#dcdcdc', width: 1 } },
      },
      yAxis: {
        type: 'value', position: 'right', min: yMin, max: yMax, splitNumber: 36, minInterval: yStep, maxInterval: yStep,
        axisLine: { show: false }, axisTick: { show: false },
        axisLabel: {
          color: '#666', fontSize: 12, margin: 6, fontFamily: FONT,
          formatter: (v: number) => (Math.abs(v / yStep - Math.round(v / yStep)) < 1e-4 ? fmtPrice(v) : ''),
        },
        splitLine: { show: true, lineStyle: { color: '#dcdcdc', width: 1 } },
      },
      graphic: [
        { type: 'text', left: 14, top: 1, style: { text: 'CAC 40 - abcbourse.com', fill: '#777', font: '12px ' + FONT } },
        { type: 'text', right: 49, top: 1, style: { text: '2 JOURS - 2 MINUTES', fill: '#777', font: '12px ' + FONT } },
        { type: 'text', x: 20, y: 28, z: 50, style: { text: 'MME (30)', fill: '#1e64d2', font: '12px ' + FONT, verticalAlign: 'middle' } },
        { type: 'text', x: 86.5, y: 28, z: 50, style: { text: 'PIVOTS', fill: '#555', font: '12px ' + FONT, verticalAlign: 'middle' } },
        { type: 'text', x: 142.5, y: 28, z: 50, style: { text: 'MMT (20)', fill: '#1e64d2', font: '12px ' + FONT, verticalAlign: 'middle' } },
        { type: 'text', x: 210, y: 28, z: 50, style: { text: 'KELTNER (20, 2)', fill: '#43a047', font: '12px ' + FONT, verticalAlign: 'middle' } },
      ],
      series: [
        {
          name: 'band', type: 'custom', z: 1, silent: true,
          data: upperBand,
          encode: { x: 0, y: 1 },
          renderItem: (params: any, api: any) => {
            if (params.dataIndex !== 0) return null;
            const pts = upperBand.map((p) => api.coord(p)).concat(lowerBand.slice().reverse().map((p) => api.coord(p)));
            return { type: 'polygon', shape: { points: pts }, style: { fill: 'rgba(60,150,60,0.25)' } };
          },
          markArea: {
            silent: true,
            itemStyle: { color: 'rgba(0,0,0,0.08)' },
            data: [[{ xAxis: 0 }, { xAxis: day1Last }]],
          },
        },
        { name: 'upper', type: 'line', data: upperBand, symbol: 'none', z: 2, silent: true, lineStyle: { color: '#55a955', width: 1 } },
        { name: 'lower', type: 'line', data: lowerBand, symbol: 'none', z: 2, silent: true, lineStyle: { color: '#55a955', width: 1 } },
        { name: 'MME (30)', type: 'line', data: mme, symbol: 'none', z: 3, silent: true, lineStyle: { color: '#2272b4', width: 1 } },
        { name: 'MMT (20)', type: 'line', data: mmt, symbol: 'none', z: 3, silent: true, lineStyle: { color: '#2272b4', width: 1 } },
        {
          name: 'wicks', type: 'candlestick', data: wickData, z: 4, silent: true, barWidth: 1,
          itemStyle: { color: '#555', color0: '#555', borderColor: '#555', borderColor0: '#555', borderWidth: 0 },
        },
        {
          name: 'CAC 40', type: 'candlestick', data: bodyData, z: 5, silent: true, barWidth: 2, barMinWidth: 2,
          itemStyle: {
            color: 'rgba(36,124,64,0.9)', color0: 'rgba(228,56,50,0.88)',
            borderColor: 'rgba(36,124,64,0.9)', borderColor0: 'rgba(228,56,50,0.88)', borderColorDoji: 'rgba(36,124,64,0.9)', borderWidth: 0.5,
          },
          markLine: {
            silent: true, symbol: ['none', 'none'], animation: false,
            data: [
              ...dashed,
              ...pivotLines,
              ...arrowLines,
              badge(maxHigh, '#0b7b0b'),
              badge(lastClose, '#3d6cf0'),
              badge(minLow, '#c40000'),
            ],
          },
        },
      ],
    };
    chart.setOption(option);
    return () => chart.dispose();
  }, []);
  return <div ref={ref} style={{ width: 1000, height: 1774 }} />;
}
